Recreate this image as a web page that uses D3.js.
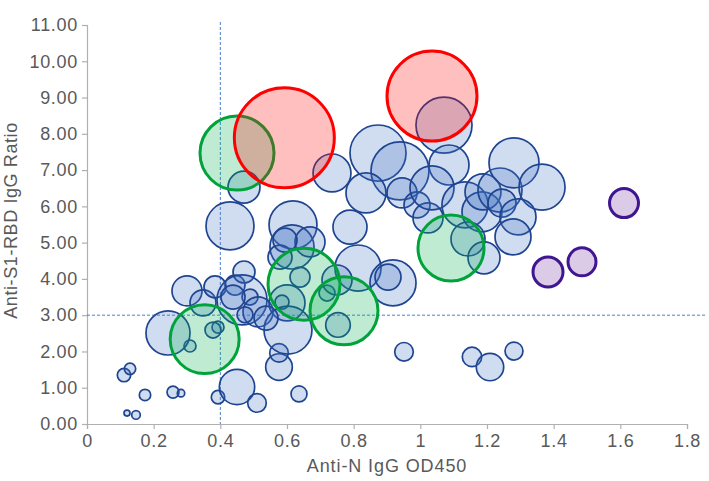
<!DOCTYPE html>
<html><head><meta charset="utf-8">
<script src="https://cdn.jsdelivr.net/npm/d3@7"></script>
<style>
html,body{margin:0;padding:0;background:#fff;}
text{font-family:"Liberation Sans",Arial,sans-serif;}
</style></head>
<body><svg id="chart" width="709" height="481"></svg>
<script>
// ---- data ----
const xTicks = [0,0.2,0.4,0.6,0.8,1,1.2,1.4,1.6,1.8];
const xTickLabels = ["0","0.2","0.4","0.6","0.8","1","1.2","1.4","1.6","1.8"];
const yTicks = [0,1,2,3,4,5,6,7,8,9,10,11];
const xTitle = "Anti-N IgG OD450";
const yTitle = "Anti-S1-RBD IgG Ratio";
const cutX = 0.4, cutY = 3;

const blueX = [0.120,0.147,0.111,0.129,0.174,0.258,0.282,0.393,0.450,0.510,0.636,0.576,0.576,0.309,0.243,
  0.951,1.155,1.209,1.281,0.753,
  0.300,0.348,0.384,0.444,0.471,0.465,0.489,0.513,0.474,0.393,0.378,0.600,0.585,0.639,0.603,0.720,0.537,0.438,
  0.471,0.429,0.618,0.615,0.669,0.579,0.594,
  0.735,0.873,0.939,1.071,1.086,0.837,0.789,0.945,0.990,1.023,1.035,1.134,1.185,1.188,1.239,1.245,1.281,1.365,1.293,1.278,1.143,1.191,0.813,0.918,0.903,0.750];
const blueY = [0.30,0.25,1.35,1.52,0.80,0.88,0.85,0.74,1.02,0.58,0.83,1.57,1.96,2.15,2.51,
  1.99,1.85,1.57,2.01,2.73,
  3.67,3.34,3.78,3.83,4.19,3.42,3.50,3.09,3.01,2.67,2.59,3.34,3.36,4.05,2.59,3.61,2.92,3.50,
  6.53,5.46,5.49,4.88,5.02,4.60,5.07,
  6.92,7.47,6.98,8.24,7.14,6.37,5.43,6.37,6.04,5.68,6.51,6.04,5.85,6.40,6.45,6.09,7.20,6.53,5.71,5.16,5.10,4.58,4.30,3.89,4.05,3.97];
const blueSize = [0.36,0.74,1.8,1.3,1.3,1.44,0.55,1.8,12.5,3.46,2.56,7.1,3.46,1.44,19.4,
  3.46,3.76,7.5,3.24,6.05,
  9,6.76,4.84,4,4.84,25,2.56,9,2.56,1.44,2.56,12.96,1.96,4,23,2.56,5.76,5.76,
  10.24,23,23,19.4,9,5.76,5.76,
  14.4,31.4,33.6,31.4,16,16,11.56,9,6.76,9,19.4,21.2,16,12.96,19.4,7.84,25,21.2,12.96,12.96,11.56,10.24,21.2,21.2,6.76,9];

const greenX = [0.450,0.353,0.651,0.771,1.092];
const greenY = [7.47,2.34,3.85,3.12,4.85];
const greenSize = [54.8,47.6,51.8,46.2,43.6];

const redX = [0.592,1.035];
const redY = [7.89,9.04];
const redSize = [100,81];

const purpleX = [1.611,1.485,1.383];
const purpleY = [6.09,4.47,4.19];
const purpleSize = [8.4,7.84,9];

// ---- chart ----
const svg = d3.select("#chart");
const m = {left:87, right:22, top:25, bottom:57};
const W = 709, H = 481;
const x = d3.scaleLinear().domain([0,1.8]).range([m.left, W - m.right]);
const y = d3.scaleLinear().domain([0,11]).range([H - m.bottom, m.top]);
const r = d3.scaleSqrt().domain([0,100]).range([0,50]);

const gridCol = "#b0b0b0", textCol = "#595959";

// axes
const yAxis = svg.append("g").attr("transform",`translate(${x(0)},0)`)
  .call(d3.axisLeft(y).tickValues(yTicks).tickSize(5).tickPadding(4).tickFormat(d3.format(".2f")));
const xAxis = svg.append("g").attr("transform",`translate(0,${y(0)})`)
  .call(d3.axisBottom(x).tickValues(xTicks).tickSize(5).tickPadding(5).tickFormat((d,i)=>xTickLabels[i]));
[xAxis,yAxis].forEach(g=>{
  g.select(".domain").attr("stroke",gridCol).attr("stroke-width",1.2);
  g.selectAll(".tick line").attr("stroke",gridCol).attr("stroke-width",1.2);
  g.selectAll(".tick text").attr("fill",textCol).style("font-size","18px").style("letter-spacing","0.7px")
    .style("font-family","'Liberation Sans',Arial,sans-serif");
});

// cutoff lines
svg.append("line").attr("x1",x(cutX)).attr("x2",x(cutX)).attr("y1",m.top-3).attr("y2",y(0))
  .attr("stroke","#4a7fd0").attr("stroke-width",1).attr("stroke-dasharray","3,2");
svg.append("line").attr("x1",x(0)).attr("x2",W-2).attr("y1",y(cutY)).attr("y2",y(cutY))
  .attr("stroke","#4a7fd0").attr("stroke-width",1).attr("stroke-dasharray","3,2");

function series(xs, ys, ss, fill, stroke, sw){
  const data = xs.map((v,i)=>({x:v, y:ys[i], s:ss[i]}));
  svg.append("g").selectAll("circle").data(data).join("circle")
    .attr("cx",d=>x(d.x)).attr("cy",d=>y(d.y)).attr("r",d=>r(d.s))
    .attr("fill",fill).attr("fill-opacity",0.25)
    .attr("stroke",stroke).attr("stroke-width",sw);
}
series(blueX, blueY, blueSize, "#4472c4", "#1f4591", 1.7);
series(purpleX, purpleY, purpleSize, "#7030a0", "#3f1591", 3);
series(greenX, greenY, greenSize, "#00b050", "#00a33a", 3);
series(redX, redY, redSize, "#ff0000", "#ff0000", 3);

// titles
svg.append("text").attr("x",(x(0)+x(1.8))/2).attr("y",472).attr("text-anchor","middle")
  .attr("fill",textCol).style("font-size","18px").style("letter-spacing","0.9px").text(xTitle);
svg.append("text").attr("transform",`translate(17,${(y(0)+y(11))/2 - 4}) rotate(-90)`).attr("text-anchor","middle")
  .attr("fill",textCol).style("font-size","18px").style("letter-spacing","0.6px").text(yTitle);
</script></body></html>
